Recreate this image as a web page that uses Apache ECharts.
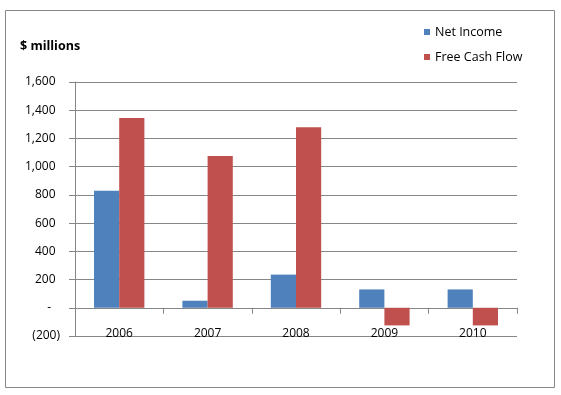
<!DOCTYPE html>
<html>
<head>
<meta charset="utf-8">
<script src="https://cdn.jsdelivr.net/npm/echarts@6/dist/echarts.min.js"></script>
<style>
html,body{margin:0;padding:0;background:#fff;}
#chart{width:561px;height:395px;}
</style>
</head>
<body>
<div id="chart"></div>
<script>
const categories = ['2006', '2007', '2008', '2009', '2010'];
const netIncome = [830, 50, 235, 130, 130];
const freeCashFlow = [1345, 1075, 1280, -125, -125];
const seriesNames = ['Net Income', 'Free Cash Flow'];
const yMin = -200, yMax = 1600, yInterval = 200;
const unitTitle = '$ millions';

const FONT = '"Open Sans", "Liberation Sans", sans-serif';
const GRAY = '#868686';

function yFmt(v) {
  if (v > 0) return v.toLocaleString('en-US') + '{p| }';
  if (v === 0) return '-{z| }';
  return '(' + Math.abs(v).toLocaleString('en-US') + ')';
}

const chart = echarts.init(document.getElementById('chart'), null, {renderer: 'canvas'});
chart.setOption({
  animation: false,
  backgroundColor: '#ffffff',
  textStyle: {fontFamily: FONT, color: '#000'},
  graphic: [{
    type: 'rect',
    shape: {x: 5.5, y: 10.5, width: 549, height: 377},
    style: {fill: 'none', stroke: GRAY, lineWidth: 1},
    silent: true
  }],
  title: {
    text: unitTitle,
    left: 20, top: 40, padding: 0,
    textStyle: {fontFamily: FONT, fontSize: 12.5, fontWeight: 'bold', color: '#000'}
  },
  legend: {
    orient: 'vertical',
    left: 424, top: 25, padding: 0,
    itemWidth: 6, itemHeight: 6, itemGap: 11, itemTextGap: 6,
    icon: 'rect',
    data: seriesNames,
    textStyle: {fontFamily: FONT, fontSize: 12.5, lineHeight: 14, color: '#000'}
  },
  grid: {left: 75, right: 44, top: 82, bottom: 59, containLabel: false},
  xAxis: {
    type: 'category',
    data: categories,
    axisLine: {show: true, onZero: true, lineStyle: {color: GRAY, width: 1}},
    axisTick: {show: true, alignWithLabel: false, interval: 0, length: 6, lineStyle: {color: GRAY}},
    axisLabel: {margin: -8, fontFamily: FONT, fontSize: 12, color: '#000', interval: 0},
    splitLine: {show: false}
  },
  yAxis: {
    type: 'value',
    min: yMin, max: yMax, interval: yInterval,
    axisLine: {show: true, lineStyle: {color: GRAY, width: 1}},
    axisTick: {show: true, length: 6, lineStyle: {color: GRAY}},
    splitLine: {show: true, lineStyle: {color: GRAY, width: 1}},
    axisLabel: {
      margin: 15, fontFamily: FONT, fontSize: 12, color: '#000',
      formatter: yFmt,
      rich: {
        p: {width: 4.5, fontSize: 12, fontFamily: FONT},
        z: {width: 9, fontSize: 12, fontFamily: FONT}
      }
    }
  },
  series: [
    {name: seriesNames[0], type: 'bar', data: netIncome, itemStyle: {color: '#4F81BD'}, barGap: '0%', barCategoryGap: '43%'},
    {name: seriesNames[1], type: 'bar', data: freeCashFlow, itemStyle: {color: '#C0504D'}, barGap: '0%', barCategoryGap: '43%'}
  ]
});
</script>
</body>
</html>
